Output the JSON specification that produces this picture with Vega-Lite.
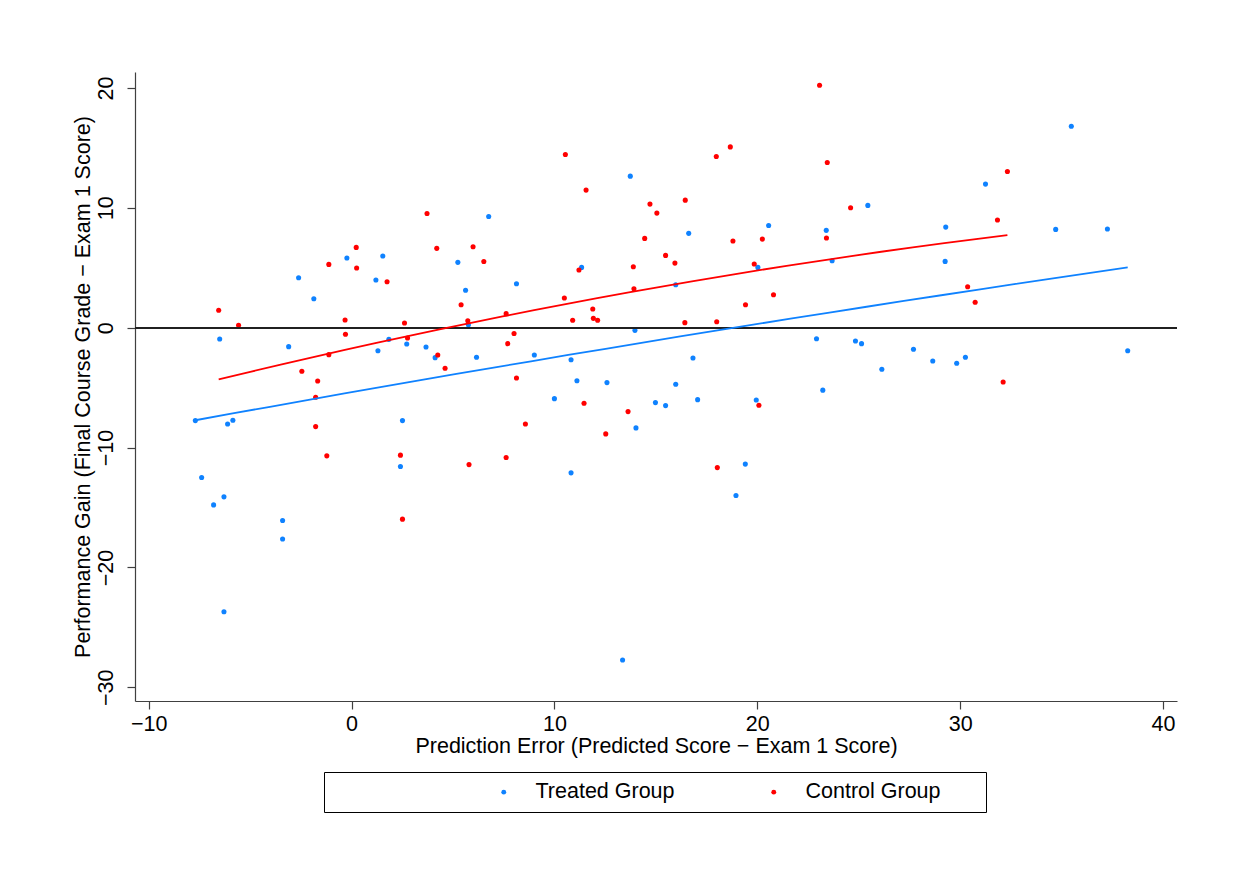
{
  "$schema": "https://vega.github.io/schema/vega-lite/v6.json",
  "autosize": "none",
  "width": 1042,
  "height": 629,
  "padding": {"left": 135, "top": 72, "right": 70, "bottom": 189},
  "background": "white",
  "config": {
    "view": {"stroke": null},
    "font": "Liberation Sans",
    "axis": {"grid": false, "domainColor": "#404040", "tickColor": "#404040", "tickSize": 8, "domainWidth": 1.2, "tickWidth": 1.2, "labelColor": "black", "titleColor": "black", "labelFontSize": 21.5, "titleFontSize": 21.5, "titleFontWeight": "normal", "labelFont": "Liberation Sans", "titleFont": "Liberation Sans"}
  },
  "datasets": {
    "pts": [
      {"pe": -7.70, "pg": -7.75, "group": "Treated Group"},
      {"pe": -7.39, "pg": -12.5, "group": "Treated Group"},
      {"pe": -6.80, "pg": -14.78, "group": "Treated Group"},
      {"pe": -6.50, "pg": -0.94, "group": "Treated Group"},
      {"pe": -6.29, "pg": -14.11, "group": "Treated Group"},
      {"pe": -6.29, "pg": -23.69, "group": "Treated Group"},
      {"pe": -6.11, "pg": -8.03, "group": "Treated Group"},
      {"pe": -5.85, "pg": -7.72, "group": "Treated Group"},
      {"pe": -3.40, "pg": -16.08, "group": "Treated Group"},
      {"pe": -3.40, "pg": -17.63, "group": "Treated Group"},
      {"pe": -3.10, "pg": -1.58, "group": "Treated Group"},
      {"pe": -2.61, "pg": 4.17, "group": "Treated Group"},
      {"pe": -1.86, "pg": 2.42, "group": "Treated Group"},
      {"pe": -0.23, "pg": 5.81, "group": "Treated Group"},
      {"pe": 1.20, "pg": 3.98, "group": "Treated Group"},
      {"pe": 1.30, "pg": -1.92, "group": "Treated Group"},
      {"pe": 1.54, "pg": 5.98, "group": "Treated Group"},
      {"pe": 1.84, "pg": -0.97, "group": "Treated Group"},
      {"pe": 2.41, "pg": -11.58, "group": "Treated Group"},
      {"pe": 2.51, "pg": -7.75, "group": "Treated Group"},
      {"pe": 2.72, "pg": -1.36, "group": "Treated Group"},
      {"pe": 3.67, "pg": -1.61, "group": "Treated Group"},
      {"pe": 4.12, "pg": -2.5, "group": "Treated Group"},
      {"pe": 5.24, "pg": 5.45, "group": "Treated Group"},
      {"pe": 5.62, "pg": 3.12, "group": "Treated Group"},
      {"pe": 5.76, "pg": 0.25, "group": "Treated Group"},
      {"pe": 6.16, "pg": -2.47, "group": "Treated Group"},
      {"pe": 6.76, "pg": 9.27, "group": "Treated Group"},
      {"pe": 8.13, "pg": 3.67, "group": "Treated Group"},
      {"pe": 9.01, "pg": -2.28, "group": "Treated Group"},
      {"pe": 10.0, "pg": -5.92, "group": "Treated Group"},
      {"pe": 10.82, "pg": -2.67, "group": "Treated Group"},
      {"pe": 10.82, "pg": -12.11, "group": "Treated Group"},
      {"pe": 11.11, "pg": -4.42, "group": "Treated Group"},
      {"pe": 11.34, "pg": 5.03, "group": "Treated Group"},
      {"pe": 12.59, "pg": -4.58, "group": "Treated Group"},
      {"pe": 13.36, "pg": -27.72, "group": "Treated Group"},
      {"pe": 13.74, "pg": 12.64, "group": "Treated Group"},
      {"pe": 13.97, "pg": -0.22, "group": "Treated Group"},
      {"pe": 14.02, "pg": -8.36, "group": "Treated Group"},
      {"pe": 14.98, "pg": -6.25, "group": "Treated Group"},
      {"pe": 15.48, "pg": -6.5, "group": "Treated Group"},
      {"pe": 15.98, "pg": 3.58, "group": "Treated Group"},
      {"pe": 15.98, "pg": -4.72, "group": "Treated Group"},
      {"pe": 16.62, "pg": 7.87, "group": "Treated Group"},
      {"pe": 16.83, "pg": -2.53, "group": "Treated Group"},
      {"pe": 17.06, "pg": -6.0, "group": "Treated Group"},
      {"pe": 18.95, "pg": -14.0, "group": "Treated Group"},
      {"pe": 19.41, "pg": -11.38, "group": "Treated Group"},
      {"pe": 19.95, "pg": -6.03, "group": "Treated Group"},
      {"pe": 20.03, "pg": 5.03, "group": "Treated Group"},
      {"pe": 20.56, "pg": 8.53, "group": "Treated Group"},
      {"pe": 22.92, "pg": -0.92, "group": "Treated Group"},
      {"pe": 23.23, "pg": -5.21, "group": "Treated Group"},
      {"pe": 23.40, "pg": 8.12, "group": "Treated Group"},
      {"pe": 23.69, "pg": 5.58, "group": "Treated Group"},
      {"pe": 24.84, "pg": -1.11, "group": "Treated Group"},
      {"pe": 25.14, "pg": -1.33, "group": "Treated Group"},
      {"pe": 25.45, "pg": 10.2, "group": "Treated Group"},
      {"pe": 26.14, "pg": -3.47, "group": "Treated Group"},
      {"pe": 27.70, "pg": -1.8, "group": "Treated Group"},
      {"pe": 28.65, "pg": -2.78, "group": "Treated Group"},
      {"pe": 29.26, "pg": 5.53, "group": "Treated Group"},
      {"pe": 29.29, "pg": 8.39, "group": "Treated Group"},
      {"pe": 29.83, "pg": -2.97, "group": "Treated Group"},
      {"pe": 30.26, "pg": -2.47, "group": "Treated Group"},
      {"pe": 31.25, "pg": 11.98, "group": "Treated Group"},
      {"pe": 34.71, "pg": 8.2, "group": "Treated Group"},
      {"pe": 35.48, "pg": 16.81, "group": "Treated Group"},
      {"pe": 37.26, "pg": 8.23, "group": "Treated Group"},
      {"pe": 38.26, "pg": -1.92, "group": "Treated Group"},
      {"pe": -6.55, "pg": 1.45, "group": "Control Group"},
      {"pe": -5.57, "pg": 0.2, "group": "Control Group"},
      {"pe": -2.45, "pg": -3.63, "group": "Control Group"},
      {"pe": -1.77, "pg": -5.8, "group": "Control Group"},
      {"pe": -1.67, "pg": -4.44, "group": "Control Group"},
      {"pe": -1.77, "pg": -8.25, "group": "Control Group"},
      {"pe": -1.22, "pg": -10.69, "group": "Control Group"},
      {"pe": -1.12, "pg": 5.28, "group": "Control Group"},
      {"pe": -1.12, "pg": -2.25, "group": "Control Group"},
      {"pe": -0.32, "pg": 0.64, "group": "Control Group"},
      {"pe": -0.30, "pg": -0.55, "group": "Control Group"},
      {"pe": 0.23, "pg": 6.7, "group": "Control Group"},
      {"pe": 0.25, "pg": 4.98, "group": "Control Group"},
      {"pe": 1.75, "pg": 3.83, "group": "Control Group"},
      {"pe": 2.61, "pg": 0.39, "group": "Control Group"},
      {"pe": 2.76, "pg": -0.86, "group": "Control Group"},
      {"pe": 2.41, "pg": -10.63, "group": "Control Group"},
      {"pe": 2.51, "pg": -15.97, "group": "Control Group"},
      {"pe": 3.72, "pg": 9.53, "group": "Control Group"},
      {"pe": 4.20, "pg": 6.62, "group": "Control Group"},
      {"pe": 4.25, "pg": -2.28, "group": "Control Group"},
      {"pe": 4.61, "pg": -3.38, "group": "Control Group"},
      {"pe": 5.40, "pg": 1.92, "group": "Control Group"},
      {"pe": 5.73, "pg": 0.58, "group": "Control Group"},
      {"pe": 5.79, "pg": -11.42, "group": "Control Group"},
      {"pe": 5.99, "pg": 6.75, "group": "Control Group"},
      {"pe": 6.52, "pg": 5.52, "group": "Control Group"},
      {"pe": 7.62, "pg": 1.17, "group": "Control Group"},
      {"pe": 7.70, "pg": -1.33, "group": "Control Group"},
      {"pe": 8.01, "pg": -0.48, "group": "Control Group"},
      {"pe": 8.13, "pg": -4.19, "group": "Control Group"},
      {"pe": 7.62, "pg": -10.83, "group": "Control Group"},
      {"pe": 8.57, "pg": -8.03, "group": "Control Group"},
      {"pe": 10.49, "pg": 2.48, "group": "Control Group"},
      {"pe": 10.54, "pg": 14.45, "group": "Control Group"},
      {"pe": 10.90, "pg": 0.62, "group": "Control Group"},
      {"pe": 11.21, "pg": 4.81, "group": "Control Group"},
      {"pe": 11.46, "pg": -6.3, "group": "Control Group"},
      {"pe": 11.56, "pg": 11.48, "group": "Control Group"},
      {"pe": 11.89, "pg": 1.56, "group": "Control Group"},
      {"pe": 11.92, "pg": 0.78, "group": "Control Group"},
      {"pe": 12.13, "pg": 0.62, "group": "Control Group"},
      {"pe": 12.53, "pg": -8.86, "group": "Control Group"},
      {"pe": 13.63, "pg": -7.0, "group": "Control Group"},
      {"pe": 13.89, "pg": 5.08, "group": "Control Group"},
      {"pe": 13.92, "pg": 3.25, "group": "Control Group"},
      {"pe": 14.45, "pg": 7.45, "group": "Control Group"},
      {"pe": 14.71, "pg": 10.31, "group": "Control Group"},
      {"pe": 15.05, "pg": 9.56, "group": "Control Group"},
      {"pe": 15.48, "pg": 6.03, "group": "Control Group"},
      {"pe": 15.94, "pg": 5.39, "group": "Control Group"},
      {"pe": 16.45, "pg": 10.64, "group": "Control Group"},
      {"pe": 16.43, "pg": 0.42, "group": "Control Group"},
      {"pe": 17.98, "pg": 14.28, "group": "Control Group"},
      {"pe": 18.0, "pg": 0.5, "group": "Control Group"},
      {"pe": 18.03, "pg": -11.67, "group": "Control Group"},
      {"pe": 18.67, "pg": 15.08, "group": "Control Group"},
      {"pe": 18.80, "pg": 7.23, "group": "Control Group"},
      {"pe": 19.42, "pg": 1.92, "group": "Control Group"},
      {"pe": 19.85, "pg": 5.31, "group": "Control Group"},
      {"pe": 20.08, "pg": -6.47, "group": "Control Group"},
      {"pe": 20.25, "pg": 7.39, "group": "Control Group"},
      {"pe": 20.80, "pg": 2.75, "group": "Control Group"},
      {"pe": 23.07, "pg": 20.22, "group": "Control Group"},
      {"pe": 23.45, "pg": 13.78, "group": "Control Group"},
      {"pe": 23.41, "pg": 7.48, "group": "Control Group"},
      {"pe": 24.60, "pg": 10.0, "group": "Control Group"},
      {"pe": 30.37, "pg": 3.42, "group": "Control Group"},
      {"pe": 30.74, "pg": 2.12, "group": "Control Group"},
      {"pe": 31.84, "pg": 8.98, "group": "Control Group"},
      {"pe": 32.12, "pg": -4.53, "group": "Control Group"},
      {"pe": 32.33, "pg": 13.03, "group": "Control Group"}
    ]
  },
  "data": {"name": "pts"},
  "layer": [
    {
      "mark": {"type": "point", "filled": true, "size": 26, "opacity": 1, "strokeWidth": 0},
      "encoding": {
        "x": {"field": "pe", "type": "quantitative", "scale": {"domain": [-10.675, 40.69], "nice": false, "zero": false},
          "axis": {"values": [-10, 0, 10, 20, 30, 40], "title": "Prediction Error (Predicted Score − Exam 1 Score)", "labelPadding": 4, "titlePadding": 1}},
        "y": {"field": "pg", "type": "quantitative", "scale": {"domain": [-31.14, 21.33], "nice": false, "zero": false},
          "axis": {"values": [-30, -20, -10, 0, 10, 20], "title": "Performance Gain (Final Course Grade − Exam 1 Score)", "labelAngle": -90, "labelAlign": "center", "labelBaseline": "bottom", "labelPadding": 10, "titlePadding": 1}},
        "color": {"field": "group", "type": "nominal",
          "scale": {"domain": ["Treated Group", "Control Group"], "range": ["#0f82ff", "#ff0000"]},
          "legend": {"title": " ", "titleOrient": "left", "titlePadding": 160, "titleFontSize": 21.5, "orient": "none", "legendX": 189, "legendY": 700, "direction": "horizontal", "strokeColor": "#000000", "padding": 9, "symbolType": "circle", "symbolSize": 24, "labelFontSize": 21.5, "labelFont": "Liberation Sans", "labelLimit": 400, "labelOffset": 21, "columnPadding": 88, "labelExpr": "datum.label == 'Control Group' ? datum.label + '\u00a0\u00a0\u00a0\u00a0\u00a0\u00a0\u200b' : datum.label"}
        }
      }
    },
    {
      "mark": {"type": "rule", "color": "#202020", "strokeWidth": 1},
      "encoding": {"y": {"datum": 0, "type": "quantitative"}}
    },
    {
      "transform": [{"filter": "datum.group == 'Treated Group'"}, {"regression": "pg", "on": "pe", "method": "quad"}],
      "mark": {"type": "line", "color": "#0f82ff", "strokeWidth": 1.8},
      "encoding": {"x": {"field": "pe", "type": "quantitative"}, "y": {"field": "pg", "type": "quantitative"}}
    },
    {
      "transform": [{"filter": "datum.group == 'Control Group'"}, {"regression": "pg", "on": "pe", "method": "quad"}],
      "mark": {"type": "line", "color": "#ff0000", "strokeWidth": 1.8},
      "encoding": {"x": {"field": "pe", "type": "quantitative"}, "y": {"field": "pg", "type": "quantitative"}}
    }
  ]
}
